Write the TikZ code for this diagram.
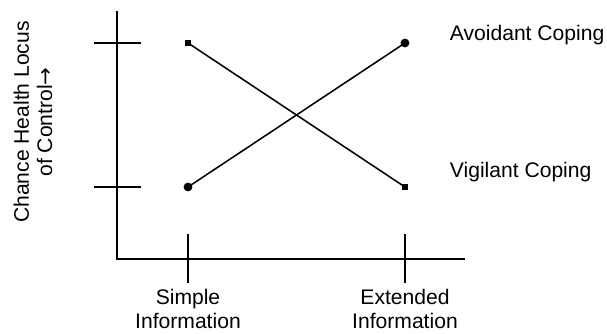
\documentclass[tikz,border=0pt]{standalone}
\usepackage{fontspec}
\setmainfont{Liberation Sans}
\newfontfamily\arrowfont{DejaVu Sans}
\tikzset{
  lbl/.style={font=\fontsize{15}{16.5}\selectfont, align=center, inner sep=0pt},
  dotpt/.style={circle, fill, inner sep=0pt, minimum size=0.22cm},
  sqpt/.style={rectangle, fill, inner sep=0pt, minimum size=0.16cm}
}
\begin{document}
\begin{tikzpicture}[x=0.025cm, y=-0.025cm, line width=1.3pt]
            \useasboundingbox (0, 0) rectangle (607, 334);
            % axes
            \coordinate (ytop) at (117, 11);
            \coordinate (orig) at (117, 259);
            \coordinate (xend) at (465, 259);
            \draw (ytop) -- (orig) -- (xend);
            % tick marks
            \draw (94, 43) -- (141, 43);
            \draw (94, 187) -- (141, 187);
            \draw (188, 234) -- (188, 283);
            \draw (405, 234) -- (405, 283);
            % data points
            \node[sqpt] (a1) at (188, 43) {};
            \node[sqpt] (a2) at (405, 187) {};
            \node[dotpt] (v1) at (188, 187) {};
            \node[dotpt] (v2) at (405, 43) {};
            \draw[line width=1.1pt] (a1.center) -- (a2.center);
            \draw[line width=1.1pt] (v1.center) -- (v2.center);
            % labels
            \node[lbl, right] (avoid) at (449, 35) {Avoidant Coping};
            \node[lbl, right] (vigil) at (449, 172) {Vigilant Coping};
            \node[lbl] (simple) at (188, 309) {Simple\\Information};
            \node[lbl] (extend) at (405, 309) {Extended\\Information};
            \node[lbl, rotate=90] (ylab) at (33, 122) {Chance Health Locus\\of Control{\arrowfont →}};
        \end{tikzpicture}
\end{document}
